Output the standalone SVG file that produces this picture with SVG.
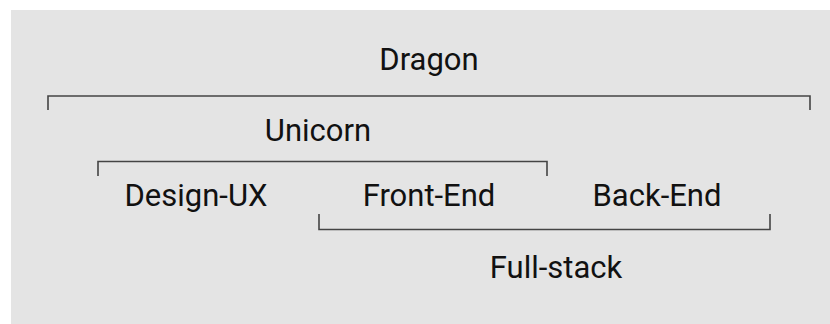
<svg xmlns="http://www.w3.org/2000/svg" width="830" height="324" viewBox="0 0 830 324">
<style>
.lbl{font-family:Roboto,"Liberation Sans",sans-serif;font-size:31px;fill:#111;text-anchor:middle}
.br{fill:none;stroke:#444;stroke-width:1.6}
</style>
<rect x="11" y="10" width="819" height="314" fill="#e4e4e4"/>
<g id="connectors">
<path class="br" d="M48,110 V96 H810 V110"/>
<path class="br" d="M98,176 V161.5 H547 V176"/>
<path class="br" d="M319,214 V229.5 H770 V214"/>
</g>
<g id="dragon"><text class="lbl" x="429" y="70">Dragon</text></g>
<g id="unicorn"><text class="lbl" x="318" y="141">Unicorn</text></g>
<g id="design-ux"><text class="lbl" x="196" y="206">Design-UX</text></g>
<g id="front-end"><text class="lbl" x="429" y="206">Front-End</text></g>
<g id="back-end"><text class="lbl" x="657" y="206">Back-End</text></g>
<g id="full-stack"><text class="lbl" x="556" y="278">Full-stack</text></g>
</svg>
